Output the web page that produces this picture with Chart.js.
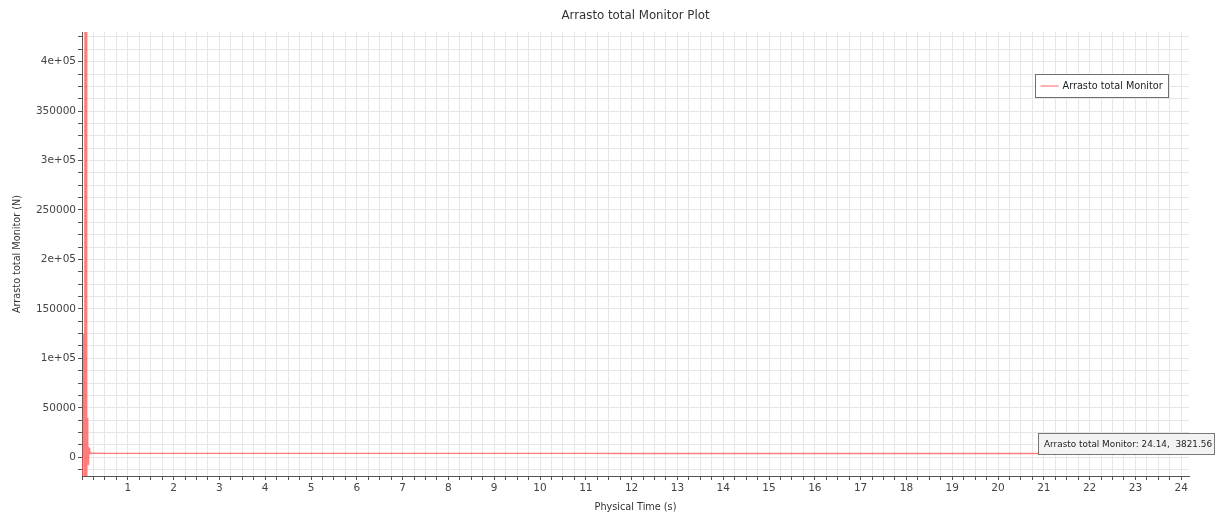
<!DOCTYPE html>
<html>
<head>
<meta charset="utf-8">
<title>Arrasto total Monitor Plot</title>
<script src="https://cdn.jsdelivr.net/npm/chart.js@4.4.1/dist/chart.umd.min.js"></script>
<style>
  html, body { margin: 0; padding: 0; background: #ffffff; }
  #wrap { width: 1217px; height: 519px; }
</style>
</head>
<body>
<div id="wrap"><canvas id="plot" width="1217" height="519"></canvas></div>
<script>
// Monitor samples: physical time (s) and total drag (N)
const timeValues = [0.000, 0.020, 0.040, 0.060, 0.070, 0.085, 0.095, 0.100, 0.105, 0.115, 0.125,
                    0.140, 0.155, 0.165, 0.175, 0.190, 0.50, 1.0, 2.0, 3.0, 4.0, 5.0, 6.0, 7.0, 8.0,
                    9.0, 10.0, 11.0, 12.0, 13.0, 14.0, 15.0, 16.0, 17.0, 18.0, 19.0, 20.0, 21.0,
                    22.0, 23.0, 24.0, 24.14];
const dragValues = [0, -30000, 125000, -26000, 980000, -42000, 640000, 150000, -24000, 40000, 12000,
                    -8000, 9000, 8500, 4300, 3950, 3880, 3860, 3850, 3845, 3840, 3838, 3836, 3834, 3833,
                    3832, 3831, 3830, 3829, 3828, 3827, 3826, 3826, 3825, 3825, 3824, 3824, 3823,
                    3823, 3822, 3822, 3821.56];

const seriesName = 'Arrasto total Monitor';
const chartTitle = 'Arrasto total Monitor Plot';
const xAxisTitle = 'Physical Time (s)';
const yAxisTitle = 'Arrasto total Monitor (N)';

// Labelled y ticks and their printed form
const yTickValues = [0, 50000, 100000, 150000, 200000, 250000, 300000, 350000, 400000];
const yTickLabels = ['0', '50000', '1e+05', '150000', '2e+05', '250000', '3e+05', '350000', '4e+05'];

// Labelled x ticks
const xTickValues = [1, 2, 3, 4, 5, 6, 7, 8, 9, 10, 11, 12, 13, 14, 15, 16, 17, 18, 19, 20, 21, 22, 23, 24];
const xTickLabels = xTickValues.map(String);

const X_MIN = 0, X_MAX = 24.17, X_MINOR = 0.25;
const Y_MIN = -19000, Y_MAX = 430000, Y_MINOR = 12500;

const FONT = 'DejaVu Sans';
const lineColor = 'rgba(255, 80, 80, 0.75)';

function minorTicks(lo, hi, step) {
  const out = [];
  const start = Math.ceil(lo / step);
  const end = Math.floor(hi / step);
  for (let k = start; k <= end; k++) out.push({ value: +(k * step).toFixed(6) });
  return out;
}

// Title, legend box and the cursor read-out box
const overlayPlugin = {
  id: 'overlay',
  afterDraw(chart) {
    const { ctx, chartArea } = chart;
    const ds = chart.data.datasets[0];
    ctx.save();

    // title
    ctx.fillStyle = '#333333';
    ctx.font = '11.8px "' + FONT + '"';
    ctx.textAlign = 'center';
    ctx.textBaseline = 'middle';
    ctx.fillText(chartTitle, (chartArea.left + chartArea.right) / 2, 16);

    // legend
    ctx.font = '9.7px "' + FONT + '"';
    const lx = 1035.5, ly = 74.5;
    const lw = 133, lh = 23;
    ctx.fillStyle = '#ffffff';
    ctx.fillRect(lx, ly, lw, lh);
    ctx.strokeStyle = '#707070';
    ctx.lineWidth = 1;
    ctx.strokeRect(lx, ly, lw, lh);
    ctx.strokeStyle = ds.borderColor;
    ctx.lineWidth = 1.2;
    ctx.beginPath();
    ctx.moveTo(lx + 5, ly + 11.5);
    ctx.lineTo(lx + 23, ly + 11.5);
    ctx.stroke();
    ctx.fillStyle = '#222222';
    ctx.textAlign = 'left';
    ctx.fillText(ds.label, lx + 27, ly + 12);

    // read-out of the last sample
    const last = ds.data[ds.data.length - 1];
    const readout = ds.label + ': ' + last.x.toFixed(2) + ',  ' + last.y.toFixed(2);
    ctx.font = '8.9px "' + FONT + '"';
    const bx = 1038.5, by = 433.5, bw = 176, bh = 21;
    ctx.fillStyle = '#f3f3f3';
    ctx.fillRect(bx, by, bw, bh);
    ctx.strokeStyle = '#777777';
    ctx.lineWidth = 1;
    ctx.strokeRect(bx, by, bw, bh);
    ctx.fillStyle = '#222222';
    ctx.fillText(readout, bx + 5.5, by + bh / 2 + 0.5);

    ctx.restore();
  }
};

const points = timeValues.map((t, i) => ({ x: t, y: dragValues[i] }));

new Chart(document.getElementById('plot'), {
  type: 'line',
  data: {
    datasets: [{
      label: seriesName,
      data: points,
      borderColor: lineColor,
      backgroundColor: lineColor,
      borderWidth: 1.4,
      pointRadius: 0,
      tension: 0,
      fill: false
    }]
  },
  options: {
    responsive: false,
    devicePixelRatio: 1,
    animation: false,
    events: [],
    layout: { padding: { top: 32, right: 28, left: 0, bottom: 0 } },
    plugins: {
      legend: { display: false },
      tooltip: { enabled: false },
      title: { display: false }
    },
    scales: {
      x: {
        type: 'linear',
        min: X_MIN,
        max: X_MAX,
        afterBuildTicks(scale) { scale.ticks = minorTicks(X_MIN, X_MAX, X_MINOR); },
        afterFit(scale) { scale.height = 43; },
        ticks: {
          autoSkip: false,
          maxRotation: 0,
          padding: 2,
          color: '#444444',
          font: { family: FONT, size: 10.5 },
          callback(value) {
            const i = xTickValues.indexOf(Math.round(value * 1000) / 1000);
            return i >= 0 ? xTickLabels[i] : '';
          }
        },
        grid: {
          color: '#e6e6e6',
          lineWidth: 1,
          tickColor: '#555555',
          tickLength: 4,
          drawTicks: true
        },
        border: { display: true, color: '#555555', width: 1 },
        title: {
          display: true,
          text: xAxisTitle,
          color: '#333333',
          font: { family: FONT, size: 9.7 },
          padding: { top: 2, bottom: 6 }
        }
      },
      y: {
        type: 'linear',
        min: Y_MIN,
        max: Y_MAX,
        afterBuildTicks(scale) { scale.ticks = minorTicks(Y_MIN, Y_MAX, Y_MINOR); },
        afterFit(scale) { scale.width = 82; },
        ticks: {
          autoSkip: false,
          padding: 2,
          color: '#444444',
          font: { family: FONT, size: 10.5 },
          callback(value) {
            const i = yTickValues.indexOf(Math.round(value));
            return i >= 0 ? yTickLabels[i] : '';
          }
        },
        grid: {
          color: '#e6e6e6',
          lineWidth: 1,
          tickColor: '#555555',
          tickLength: 4,
          drawTicks: true
        },
        border: { display: true, color: '#555555', width: 1 },
        title: {
          display: true,
          text: yAxisTitle,
          color: '#333333',
          font: { family: FONT, size: 9.7 },
          padding: { top: 12, bottom: 0 }
        }
      }
    }
  },
  plugins: [overlayPlugin]
});
</script>
</body>
</html>
